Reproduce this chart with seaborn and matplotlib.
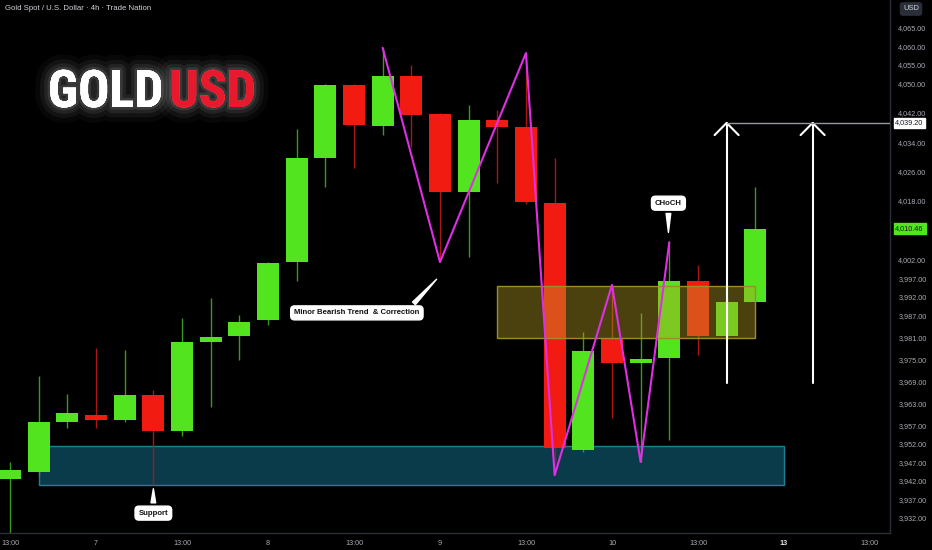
import numpy as np
import pandas as pd
import matplotlib
matplotlib.use("Agg")
import matplotlib.pyplot as plt
import matplotlib.patheffects as pe
from matplotlib.patches import Rectangle
import seaborn as sns

# Candles de 4h
opens = [3942.4, 3944.3, 3957.9, 3959.8, 3958.5, 3965.3, 3955.5, 3979.7, 3981.3, 3985.7,
         4001.4, 4029.7, 4049.5, 4038.4, 4052.0, 4041.6, 4020.4, 4040.0, 4038.1, 4017.4,
         3950.3, 3980.8, 3974.0, 3975.3, 3996.2, 3981.3, 3990.5]
closes = [3944.9, 3957.9, 3960.4, 3958.5, 3965.3, 3955.5, 3979.7, 3981.0, 3985.1, 4001.1,
          4029.7, 4049.5, 4038.6, 4052.0, 4041.4, 4020.4, 4040.0, 4038.1, 4017.7, 3950.9,
          3977.2, 3974.0, 3975.1, 3996.2, 3981.3, 3990.5, 4010.46]
highs = [3947.1, 3970.4, 3965.5, 3978.0, 3977.5, 3966.6, 3986.2, 3991.6, 3987.0, 4001.5,
         4037.6, 4049.8, 4049.8, 4059.6, 4054.9, 4041.8, 4044.1, 4042.7, 4058.2, 4029.7,
         3982.4, 3995.2, 3987.6, 4006.8, 4000.6, 3991.6, 4021.8]
lows = [3926.0, 3943.5, 3956.3, 3956.3, 3957.9, 3940.8, 3954.1, 3962.0, 3974.8, 3984.3,
        3996.2, 4021.8, 4027.0, 4035.9, 4032.7, 4001.4, 4002.8, 4022.9, 4017.2, 3943.5,
        3949.8, 3959.0, 3947.1, 3953.0, 3976.1, 3980.2, 3990.5]

# zigue-zague (estrutura)
zig_x = [13, 15, 18, 19, 21, 22, 23]
zig_y = [4059.6, 4001.4, 4058.2, 3943.5, 3995.2, 3947.1, 4006.8]

# eixo
tick_x = [0, 3, 6, 9, 12, 15, 18, 21, 24, 27, 30]
tick_x_labels = ["13:00", "7", "13:00", "8", "13:00", "9", "13:00", "10", "13:00", "13", "13:00"]
tick_y = [4065, 4060, 4055, 4050, 4042, 4034, 4026, 4018, 4002, 3997, 3992, 3987,
          3981, 3975, 3969, 3963, 3957, 3952, 3947, 3942, 3937, 3932]

target = 4039.20
last_price = 4010.46
support_zone = (3940.8, 3951.4)
resist_zone = (3980.8, 3994.9)

df = pd.DataFrame({"open": opens, "high": highs, "low": lows, "close": closes})
df["i"] = np.arange(len(df))
df["up"] = df["close"] >= df["open"]

sns.set_theme(style="dark", rc={"axes.facecolor": "black", "figure.facecolor": "black",
                                "axes.grid": False})
plt.rcParams["font.family"] = ["Liberation Sans", "DejaVu Sans"]

GREEN = "#52e51f"
RED = "#f21b12"
GREEN_W = "#3b9a1e"
RED_W = "#a81812"
TXT = "#a9acb4"

fig = plt.figure(figsize=(9.32, 5.5), dpi=100)
ax = fig.add_axes([0, 17 / 550, 890 / 932, 533 / 550])

# zona de suporte (azul)
ax.add_patch(Rectangle((1, support_zone[0]), 26, support_zone[1] - support_zone[0],
                       facecolor="#0a3b4b", edgecolor="#1f8196", lw=1, zorder=1))

# candles
for _, r in df.iterrows():
    cw = GREEN_W if r["up"] else RED_W
    cb = GREEN if r["up"] else RED
    ax.vlines(r["i"], r["low"], r["high"], color=cw, lw=1, zorder=2)
    lo = min(r["open"], r["close"])
    h = max(abs(r["close"] - r["open"]), 0.9)
    ax.bar(r["i"], h, bottom=lo, width=0.77, color=cb, lw=0, zorder=3)

# zona amarela
ax.add_patch(Rectangle((17, resist_zone[0]), 9, resist_zone[1] - resist_zone[0],
                       facecolor=(0.74, 0.64, 0.15, 0.4), edgecolor="#9c8c2c", lw=1, zorder=4))

# estrutura
sns.lineplot(x=zig_x, y=zig_y, ax=ax, sort=False, color="#e02ee6", lw=1.5, zorder=5)

# setas de alvo
for xa in [25, 28]:
    ax.plot([xa, xa], [3968.5, target], color="white", lw=1.5, zorder=6)
    ax.plot([xa - 0.42, xa, xa + 0.42], [target - 3.3, target, target - 3.3],
            color="white", lw=1.5, zorder=6)
ax.plot([25, 31], [target, target], color="#9598a1", lw=1, zorder=6)

# callouts
box = dict(boxstyle="round,pad=0.45,rounding_size=0.5", fc="white", ec="white")
ax.annotate("Minor Bearish Trend  & Correction", xy=(14.95, 3997.3), xytext=(12.1, 3987.6),
            ha="center", va="center", fontsize=5.6, fontweight="bold", color="#111111",
            bbox=box, zorder=8,
            arrowprops=dict(arrowstyle="wedge,tail_width=0.5", fc="white", ec="white",
                            relpos=(0.9, 0.8)))
ax.annotate("Support", xy=(5.0, 3940.6), xytext=(5.0, 3933.2),
            ha="center", va="center", fontsize=5.6, fontweight="bold", color="#111111",
            bbox=box, zorder=8,
            arrowprops=dict(arrowstyle="wedge,tail_width=0.6", fc="white", ec="white"))
ax.annotate("CHoCH", xy=(22.97, 4008.7), xytext=(22.97, 4017.4),
            ha="center", va="center", fontsize=5.6, fontweight="bold", color="#111111",
            bbox=box, zorder=8,
            arrowprops=dict(arrowstyle="wedge,tail_width=0.6", fc="white", ec="white"))

ax.set_xlim(-0.35, 30.7)
ax.set_ylim(3927.8, 4072.6)
ax.set_xticks(tick_x)
ax.set_xticklabels(tick_x_labels)
ax.yaxis.tick_right()
ax.set_yticks(tick_y)
ax.set_yticklabels([f"{v:,.2f}" for v in tick_y])
ax.tick_params(axis="both", length=0, labelsize=5.2, colors=TXT)
ax.tick_params(axis="y", pad=6)
ax.tick_params(axis="x", pad=5)
for lab in ax.get_xticklabels():
    if lab.get_text() == "13":
        lab.set_color("#e0e3eb")
        lab.set_fontweight("bold")
ax.set_xlabel("")
ax.set_ylabel("")
for s in ["top", "left"]:
    ax.spines[s].set_visible(False)
for s in ["right", "bottom"]:
    ax.spines[s].set_color("#2a2e39")
    ax.spines[s].set_linewidth(1)

# rotulos de preco no eixo
tr = ax.get_yaxis_transform()
ax.text(1.006, target, f"{target:,.2f}", transform=tr, ha="left", va="center", fontsize=5.2,
        color="#131722", bbox=dict(boxstyle="square,pad=0.25", fc="white", ec="white"),
        clip_on=False, zorder=10)
ax.text(1.006, last_price, f"{last_price:,.2f}", transform=tr, ha="left", va="center",
        fontsize=5.2, color="#131722",
        bbox=dict(boxstyle="square,pad=0.25", fc=GREEN, ec=GREEN), clip_on=False, zorder=10)
fig.text(911 / 932, 541 / 550, "USD", ha="center", va="center", fontsize=5.4, color="#d1d4dc",
         bbox=dict(boxstyle="round,pad=0.35,rounding_size=0.3", fc="#2a2e39", ec="#2a2e39"))

# titulo
fig.text(5 / 932, 541 / 550, "Gold Spot / U.S. Dollar \u00b7 4h \u00b7 Trade Nation",
         ha="left", va="center", fontsize=5.6, color="#d1d4dc")
glow = [pe.Stroke(linewidth=22, foreground=(1, 1, 1, 0.03)),
        pe.Stroke(linewidth=15, foreground=(1, 1, 1, 0.05)),
        pe.Stroke(linewidth=9, foreground=(1, 1, 1, 0.07)),
        pe.Stroke(linewidth=4, foreground=(1, 1, 1, 0.10)),
        pe.Normal()]
title_family = ["Roboto Condensed", "Roboto", "DejaVu Sans"]
base = (550 - 107) / 550
t1 = fig.text(48 / 932, base, "GOLD", ha="left", va="baseline", color="white",
              fontsize=44, fontweight="bold", family=title_family, path_effects=glow)
t2 = fig.text(0, base, "USD", ha="left", va="baseline", color="#e8192c",
              fontsize=44, fontweight="bold", family=title_family, path_effects=glow)
# ajusta o tamanho para caber entre x=48 e x=255 px
fig.canvas.draw()
w_tot = t1.get_window_extent().width + 6 + t2.get_window_extent().width
fs = min(44, 44 * 207 / w_tot)
t1.set_fontsize(fs)
t2.set_fontsize(fs)
fig.canvas.draw()
bb = t1.get_window_extent()
t2.set_x((bb.x1 + 6) / 932)

fig.savefig("out.png", dpi=100, facecolor="black")
